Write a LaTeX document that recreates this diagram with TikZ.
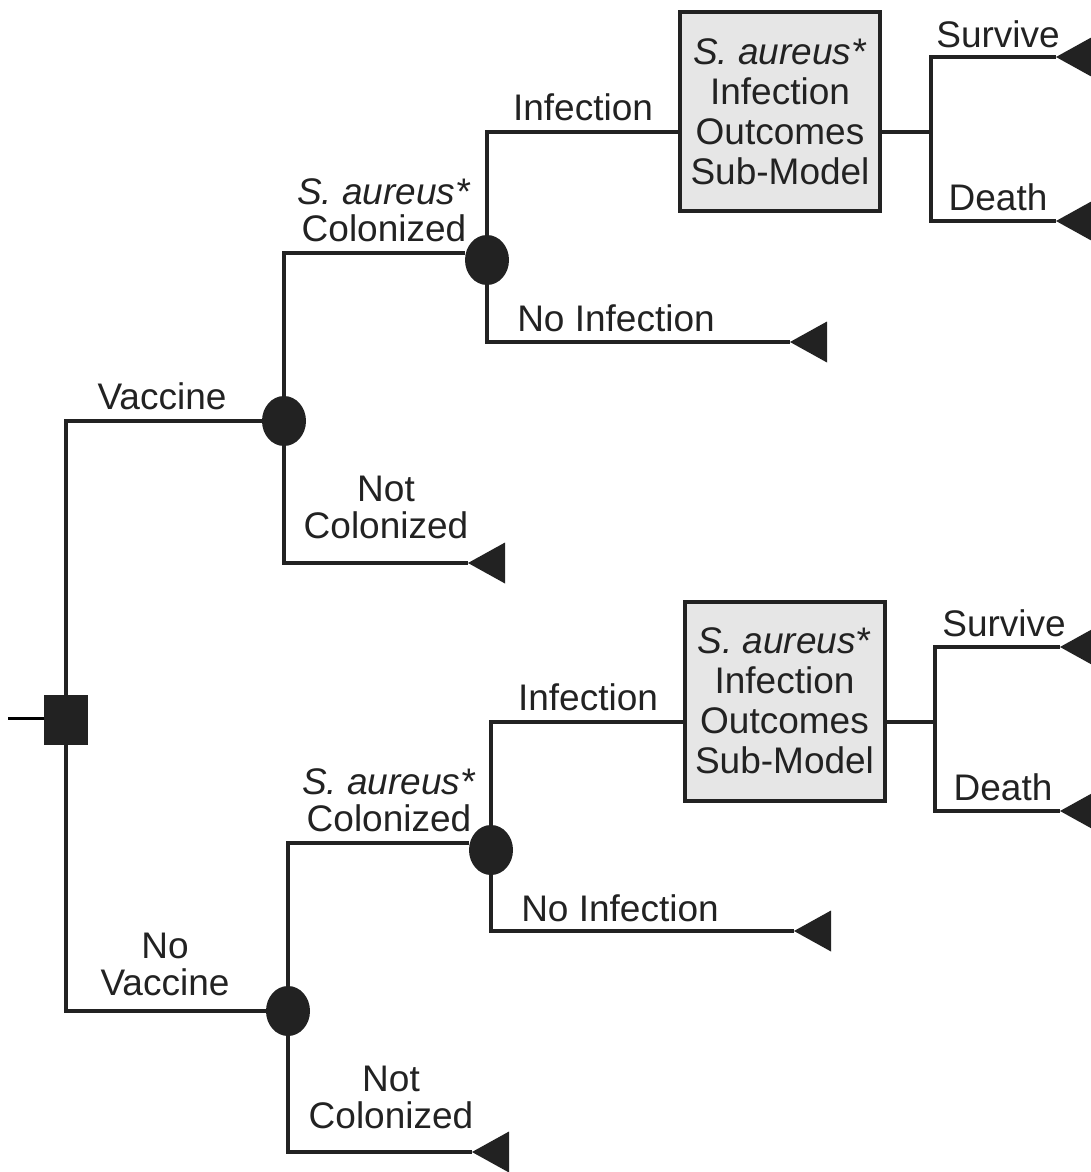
\documentclass[tikz,border=0pt]{standalone}
\usepackage{fontspec}
\setmainfont{Liberation Sans}
\usetikzlibrary{shapes.geometric}
\definecolor{ink}{HTML}{222222}
\definecolor{boxfill}{HTML}{E6E6E6}
\begin{document}
\begin{tikzpicture}[x=1pt,y=-1pt,
  br/.style={draw=ink, line width=4pt},
  chance/.style={ellipse, fill=ink, minimum width=44pt, minimum height=50pt, inner sep=0pt},
  dec/.style={rectangle, fill=ink, minimum width=44pt, minimum height=50pt, inner sep=0pt},
  sub/.style={draw=ink, line width=4pt, fill=boxfill, minimum width=200pt, minimum height=199pt,
    inner sep=0pt, align=center, text=ink, font=\fontsize{37}{40}\selectfont},
  lbl/.style={text=ink, font=\fontsize{37}{37}\selectfont, align=center, inner sep=0pt},
  termtri/.pic={\fill[ink] (0,0) -- (37,-20.5) -- (37,20.5) -- cycle;}
]
\useasboundingbox (0,0) rectangle (1091,1172);
\clip (0,0) rectangle (1091,1172);

% decision node
\node[dec] (sq) at (66,720) {};
\coordinate (stub) at (8,718);

% ---------- Vaccine subtree ----------
\node[chance] (va) at (284,421) {};
\node[chance] (vc) at (487,260) {};
\node[sub] (vb) at (780,111.5) {\textit{S. aureus*}\\Infection\\Outcomes\\Sub-Model};
\coordinate (vj) at (931,132);
\coordinate (vts) at (1056,57);
\coordinate (vtd) at (1056,221);
\coordinate (vtn) at (790,342);
\coordinate (vtc) at (468,563);

% ---------- No Vaccine subtree ----------
\node[chance] (na) at (288,1011) {};
\node[chance] (nc) at (491,850) {};
\node[sub] (nb) at (784.5,701) {\textit{S. aureus*}\\Infection\\Outcomes\\Sub-Model};
\coordinate (nj) at (935,722);
\coordinate (nts) at (1060,647);
\coordinate (ntd) at (1060,811);
\coordinate (ntn) at (794,931);
\coordinate (ntc) at (472,1152);

% connectors
\draw[draw=black, line width=3pt] (stub) -- (stub -| sq.west);
\draw[br] (sq.north) |- (va.west);
\draw[br] (sq.south) |- (na.west);

\draw[br] (va.north) |- ([yshift=7pt]vc.west);
\draw[br] (va.south) |- (vtc);
\draw[br] (vc.north) |- ([yshift=-20.5pt]vb.west);
\draw[br] (vc.south) |- (vtn);
\draw[br] ([yshift=-20.5pt]vb.east) -- (vj);
\draw[br] (vts) -| (vj) |- (vtd);

\draw[br] (na.north) |- ([yshift=7pt]nc.west);
\draw[br] (na.south) |- (ntc);
\draw[br] (nc.north) |- ([yshift=-21pt]nb.west);
\draw[br] (nc.south) |- (ntn);
\draw[br] ([yshift=-21pt]nb.east) -- (nj);
\draw[br] (nts) -| (nj) |- (ntd);

% terminal triangles
\pic at (vts) {termtri};
\pic at (vtd) {termtri};
\pic at (vtn) {termtri};
\pic at (vtc) {termtri};
\pic at (nts) {termtri};
\pic at (ntd) {termtri};
\pic at (ntn) {termtri};
\pic at (ntc) {termtri};

% labels
\node[lbl] (lv) at (162,396) {Vaccine};
\node[lbl] (lnv) at (165,964) {No\\Vaccine};

\node[lbl] (lvc) at (384,210) {\textit{S. aureus*}\\Colonized};
\node[lbl] (lvn) at (386,507) {Not\\Colonized};
\node[lbl] (lvi) at (583,107) {Infection};
\node[lbl] (lvni) at (616,318) {No Infection};
\node[lbl] (lvs) at (998,34) {Survive};
\node[lbl] (lvd) at (998,197) {Death};

\node[lbl] (lnc) at (389,800) {\textit{S. aureus*}\\Colonized};
\node[lbl] (lnn) at (391,1097) {Not\\Colonized};
\node[lbl] (lni) at (588,697) {Infection};
\node[lbl] (lnni) at (620,908) {No Infection};
\node[lbl] (lns) at (1004,623) {Survive};
\node[lbl] (lnd) at (1003,787) {Death};
\end{tikzpicture}
\end{document}
